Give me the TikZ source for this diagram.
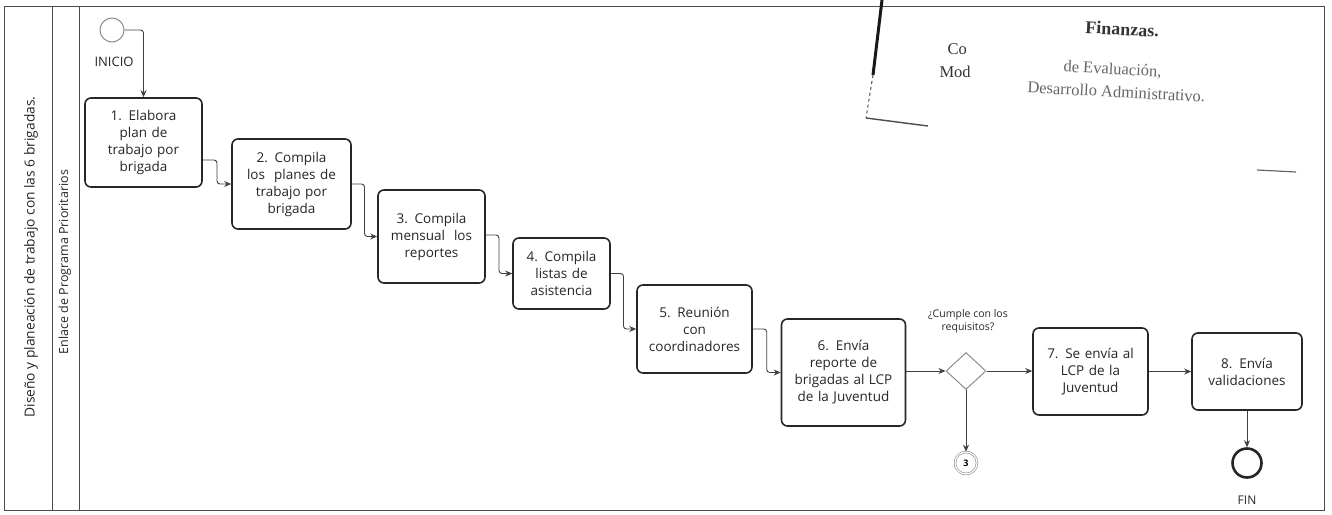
\documentclass[tikz,border=0pt]{standalone}
\usepackage{fontspec}
\setmainfont{Open Sans}
\newfontfamily\stampfont{Liberation Serif}
\usetikzlibrary{shapes.geometric,arrows.meta,calc}
\begin{document}
\begin{tikzpicture}[x=1pt,y=-1pt,
  task/.style={draw=black!85,line width=1.6pt,rounded corners=6pt,align=center,
    inner sep=2pt,font=\fontsize{13.5}{17}\selectfont,text=black!85},
  conn/.style={draw=black!75,line width=0.9pt,-{Stealth[length=7pt,width=6pt]},rounded corners=3pt},
  frameline/.style={draw=black!70,line width=0.9pt},
  lanetext/.style={rotate=90,font=\fontsize{12.5}{14}\selectfont,text=black!85},
  small/.style={font=\fontsize{12}{14}\selectfont,text=black!85,align=center},
  stamp/.style={font=\stampfont\fontsize{16.5}{18}\selectfont,text=black!80,anchor=west}]
\useasboundingbox (0,0) rectangle (1332,514);
% frame and lanes
\draw[frameline] (4,6) rectangle (1324,510);
\draw[frameline] (52,6) -- (52,510);
\draw[frameline] (79,6) -- (79,510);
\node[lanetext,font=\fontsize{13.8}{15}\selectfont] (lane1) at (31,257) {Diseño y planeación de trabajo con las 6 brigadas.};
\node[lanetext] (lane2) at (65,262) {Enlace de Programa Prioritarios};
% events
\node[circle,draw=black!45,line width=1pt,minimum size=24pt,inner sep=0pt] (start) at (112,30) {};
\node[small,font=\fontsize{13}{15}\selectfont] (inicio) at (114,62) {INICIO};
% tasks
\node[task,minimum width=117pt,minimum height=89pt,text width=110pt] (b1) at (143.5,142.5) {1. Elabora\\plan de\\trabajo por\\brigada};
\node[task,minimum width=119pt,minimum height=90pt,text width=114pt] (b2) at (291.5,184) {2. Compila\\los\ \ planes de\\trabajo por\\brigada};
\node[task,minimum width=107pt,minimum height=93pt,text width=102pt] (b3) at (431.5,236.5) {3. Compila\\mensual\ \ los\\reportes};
\node[task,minimum width=97pt,minimum height=71pt,text width=92pt] (b4) at (561.5,273.5) {4. Compila\\listas de\\asistencia};
\node[task,minimum width=115pt,minimum height=88pt,text width=110pt] (b5) at (694.5,329) {5. Reunión\\con\\coordinadores};
\node[task,minimum width=123pt,minimum height=107pt,text width=120pt] (b6) at (843.5,372.5) {6. Envía\\reporte de\\brigadas al LCP\\de la Juventud};
\node[diamond,draw=black!45,line width=1pt,minimum width=40pt,minimum height=37pt,inner sep=0pt] (dia) at (966,371) {};
\node[small,font=\fontsize{10.5}{13}\selectfont] (q) at (968,321) {¿Cumple con los\\requisitos?};
\node[task,minimum width=115pt,minimum height=87pt,text width=110pt] (b7) at (1090.5,371.5) {7. Se envía al\\LCP de la\\Juventud};
\node[task,minimum width=110pt,minimum height=77pt,text width=106pt] (b8) at (1247,371.5) {8. Envía\\validaciones};
\node[circle,draw=black!85,line width=2.6pt,minimum size=29pt,inner sep=0pt] (fin) at (1247,463) {};
\node[small] (finl) at (1247,500) {FIN};
\node[circle,double,draw=black!45,line width=0.6pt,double distance=1.2pt,minimum size=22pt,inner sep=0pt,font=\fontsize{9}{10}\selectfont\bfseries] (c3) at (966,463) {3};
% connectors
\draw[conn] (start.east) -| (b1.north);
\draw[conn] ([yshift=-17.5pt]b1.east) -| ($([yshift=-17.5pt]b1.east)!0.5!(b2.west)$) |- (b2.west);
\draw[conn] (b2.east) -| ($(b2.east)!0.5!(b3.west)$) |- (b3.west);
\draw[conn] ([yshift=1.5pt]b3.east) -| ($([yshift=1.5pt]b3.east)!0.5!(b4.west)$) |- (b4.west);
\draw[conn] (b4.east) -| ($(b4.east)!0.5!(b5.west)$) |- (b5.west);
\draw[conn] (b5.east) -| ($(b5.east)!0.5!(b6.west)$) |- (b6.west);
\draw[conn] (b6.east |- dia.west) -- (dia.west);
\draw[conn] (dia.east) -- (b7.west |- dia.east);
\draw[conn] (b7.east) -- (b8.west);
\draw[conn] (dia.south) -- (c3.north);
\draw[conn] (b8.south) -- (fin.north);
% scanned stamp remnant
\coordinate (s1) at (882,0);
\coordinate (s2) at (873,75);
\coordinate (s3) at (866,118);
\coordinate (s4) at (928,126);
\draw[line width=3pt,black!90] (s1) -- (s2);
\draw[line width=1pt,black!70,dashed] (s2) -- (s3);
\draw[line width=1.4pt,black!70] (s3) -- (s4);
\draw[line width=1.2pt,black!60] (1257,170) -- (1296,172);
\node[stamp,rotate=-3,font=\stampfont\bfseries\fontsize{18}{20}\selectfont] (st1) at (1082,27) {Finanzas.};
\node[stamp] (st2) at (944,49) {Co};
\node[stamp] (st3) at (936,72) {Mod};
\node[stamp,rotate=-3,text=black!60] (st4) at (1060,67) {de Evaluación,};
\node[stamp,rotate=-3,text=black!60] (st5) at (1024,87) {Desarrollo Administrativo.};
\end{tikzpicture}
\end{document}
